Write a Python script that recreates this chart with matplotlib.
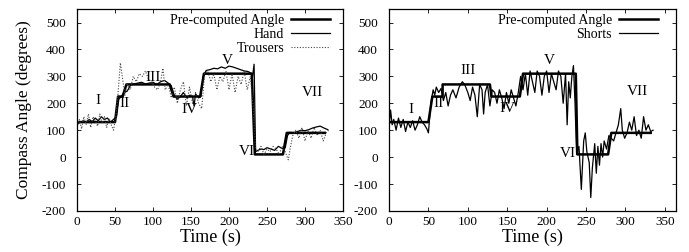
import matplotlib
matplotlib.use('Agg')
import matplotlib.pyplot as plt

plt.rcParams['font.family'] = ['Liberation Serif', 'DejaVu Serif']
plt.rcParams['axes.unicode_minus'] = False

# pre-computed compass angle (step profile), left and right runs
pre_left_t = [0, 50, 54, 60, 65, 122, 127, 162, 167, 230, 234, 271, 276, 326]
pre_left_y = [130, 130, 225, 225, 270, 270, 225, 225, 310, 310, 10, 10, 90, 90]
pre_right_t = [0, 50, 55, 68, 68, 128, 130, 166, 170, 237, 239, 278, 282, 332]
pre_right_y = [130, 130, 225, 225, 270, 270, 225, 225, 310, 310, 10, 10, 90, 90]

# hand-held phone
hand_t = [0, 4, 8, 12, 16, 20, 24, 28, 32, 36, 40, 44, 48, 52, 55, 58, 62, 66, 70, 75,
          80, 85, 90, 95, 100, 105, 110, 115, 120, 124, 128, 132, 136, 140, 144, 148, 152,
          154, 156, 160, 163, 166, 170, 175, 180, 185, 190, 195, 200, 205, 210, 215, 220,
          225, 229, 231, 233, 235, 238, 242, 246, 250, 255, 260, 265, 270, 274, 277, 280,
          285, 290, 295, 300, 305, 310, 315, 320, 325, 330]
hand_y = [125, 128, 135, 130, 140, 132, 145, 135, 150, 140, 145, 130, 140, 150, 215, 225,
          240, 245, 265, 272, 275, 278, 272, 275, 278, 270, 280, 285, 275, 265, 230, 215,
          225, 240, 220, 230, 225, 190, 235, 220, 225, 300, 322, 325, 330, 328, 335, 330,
          338, 335, 330, 325, 320, 318, 312, 300, 345, 20, 25, 30, 28, 35, 30, 25, 40, 32,
          35, 80, 92, 90, 95, 100, 98, 102, 108, 112, 115, 108, 102]

# phone in trouser pocket
trousers_t = [0, 3, 6, 9, 12, 15, 18, 21, 24, 27, 30, 33, 36, 39, 42, 45, 48, 51, 54, 57,
              60, 63, 66, 70, 74, 78, 82, 86, 90, 94, 98, 102, 106, 110, 113, 116, 120, 124,
              128, 132, 136, 140, 144, 148, 152, 156, 160, 164, 168, 172, 176, 180, 184, 188,
              192, 196, 200, 204, 208, 212, 216, 220, 224, 228, 232, 235, 238, 242, 246, 250,
              254, 258, 262, 266, 270, 274, 278, 281, 284, 288, 292, 296, 300, 304, 308, 312,
              316, 320, 324, 328, 331]
trousers_y = [110, 140, 105, 150, 120, 160, 110, 150, 135, 115, 160, 125, 150, 110, 145, 120,
              100, 150, 240, 350, 290, 230, 270, 250, 300, 280, 310, 300, 320, 290, 280, 260,
              250, 280, 330, 250, 270, 220, 260, 200, 250, 280, 190, 260, 200, 240, 200, 180,
              310, 320, 280, 310, 250, 300, 280, 320, 250, 310, 240, 300, 270, 320, 250, 300,
              180, 30, 20, 40, 10, 30, 20, 40, 30, 10, 40, 20, -10, 40, 80, 100, 70, 110, 60,
              100, 70, 110, 80, 100, 60, 90, 100]

# phone in shorts pocket
shorts_t = [0, 2, 4, 6, 9, 12, 15, 18, 21, 24, 27, 30, 33, 36, 39, 42, 45, 48, 50, 53, 56,
            58, 60, 63, 66, 69, 72, 75, 78, 81, 85, 89, 93, 96, 100, 103, 106, 109, 112, 115,
            118, 120, 122, 125, 128, 131, 134, 137, 140, 143, 146, 149, 152, 155, 158, 161,
            164, 167, 170, 173, 176, 179, 182, 185, 188, 191, 194, 197, 200, 203, 206, 209,
            212, 215, 218, 221, 224, 226, 228, 230, 232, 234, 236, 238, 241, 244, 247, 249,
            251, 254, 256, 258, 261, 263, 265, 267, 269, 271, 273, 276, 279, 282, 285, 288,
            291, 294, 296, 299, 302, 305, 308, 311, 314, 317, 320, 323, 326, 329, 332, 335]
shorts_y = [110, 175, 120, 140, 100, 145, 110, 140, 95, 130, 110, 135, 100, 120, 150, 130,
            120, 105, 90, 200, 250, 230, 260, 240, 255, 210, 240, 190, 230, 250, 220, 260,
            280, 270, 240, 210, 260, 230, 150, 270, 250, 160, 240, 270, 190, 250, 240, 200,
            250, 220, 180, 240, 200, 250, 220, 190, 240, 300, 250, 310, 230, 320, 280, 240,
            320, 300, 230, 300, 320, 240, 310, 280, 250, 320, 300, 200, 310, 120, 280, 220,
            300, 340, 200, 10, 40, -120, 60, 90, 20, -20, -150, -40, 50, -60, 40, -30, 50, 0,
            60, 30, 80, 70, 60, 90, 120, 180, 100, 70, 90, 130, 100, 150, 80, 100, 70, 150,
            100, 120, 95, 100]

labels_left = ['I', 'II', 'III', 'IV', 'V', 'VI', 'VII']
labels_left_x = [27, 62, 100, 148, 198, 223, 310]
labels_left_y = [212, 200, 294, 175, 359, 19, 240]
labels_right_x = [28, 63, 100, 150, 203, 227, 315]
labels_right_y = [177, 200, 321, 181, 360, 15, 244]

fig = plt.figure(figsize=(6.89, 2.52), dpi=100)
ax1 = fig.add_axes([0.1118, 0.163, 0.386, 0.801])
ax2 = fig.add_axes([0.5646, 0.163, 0.4164, 0.801])

ax1.plot(pre_left_t, pre_left_y, color='black', lw=1.8, label='Pre-computed Angle')
ax1.plot(hand_t, hand_y, color='black', lw=0.9, label='Hand')
ax1.plot(trousers_t, trousers_y, color='#444444', lw=0.8, ls=(0, (1, 1.5)), label='Trousers')

ax2.plot(pre_right_t, pre_right_y, color='black', lw=1.8, label='Pre-computed Angle')
ax2.plot(shorts_t, shorts_y, color='black', lw=0.9, label='Shorts')

for ax, lx, ly, lgx in [(ax1, labels_left_x, labels_left_y, 0.951),
                        (ax2, labels_right_x, labels_right_y, 0.937)]:
    for s, x, y in zip(labels_left, lx, ly):
        ax.text(x, y, s, ha='center', va='center', fontsize=11)
    ax.set_ylim(-200, 550)
    ax.set_yticks(range(-200, 501, 100))
    ax.set_xticks(range(0, 351, 50))
    ax.tick_params(direction='in', top=True, right=True, labelsize=9.5, length=3, width=0.6)
    ax.tick_params(axis='y', pad=8)
    ax.set_xlabel('Time (s)', fontsize=13, labelpad=1)
    for sp in ax.spines.values():
        sp.set_linewidth(0.9)
    ax.legend(loc='upper right', bbox_to_anchor=(lgx, 0.975), frameon=False, markerfirst=False,
              fontsize=10, handlelength=2.8, labelspacing=0.05, borderaxespad=0.0,
              handletextpad=0.5, borderpad=0.0)

ax1.set_xlim(0, 350)
ax2.set_xlim(0, 364)
ax1.set_ylabel('Compass Angle (degrees)', fontsize=12.5, labelpad=7)

fig.savefig('out.png', dpi=100)
